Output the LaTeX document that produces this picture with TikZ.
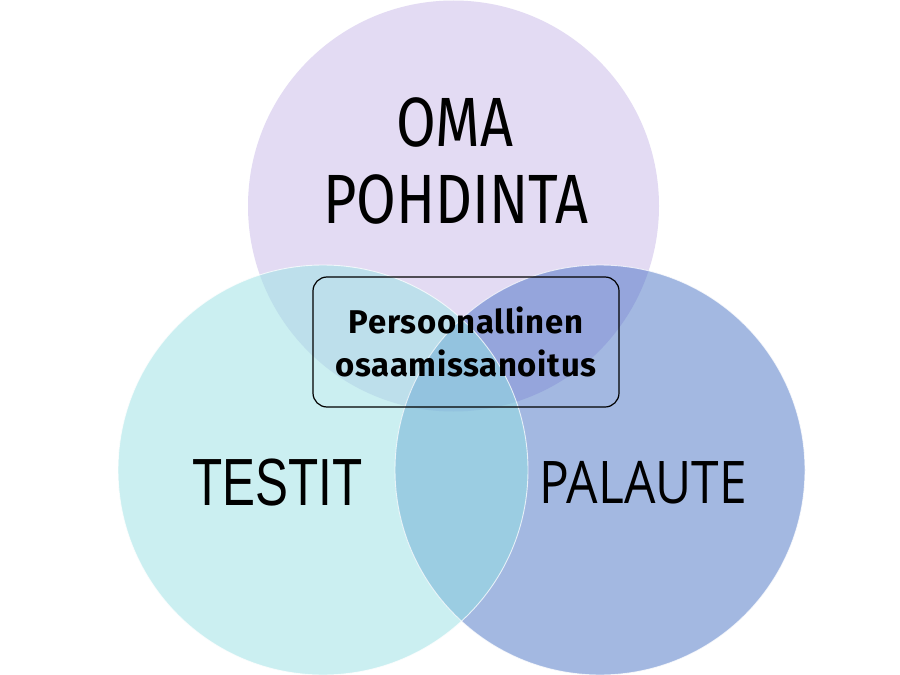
\documentclass[tikz,border=0pt]{standalone}
\usepackage{fontspec}
\setmainfont{Fira Sans}
\newfontfamily\dinfont[FakeStretch=0.825]{Fira Sans}
\newfontfamily\testfont[FakeStretch=0.74]{Liberation Sans}
\newfontfamily\palfont[FakeStretch=0.845]{Open Sans}
\newfontfamily\boxfont[LetterSpace=2]{Fira Sans}
\definecolor{cT}{HTML}{E3DBF3}
\definecolor{cL}{HTML}{CBEFF1}
\definecolor{cR}{HTML}{A3B8E1}
\definecolor{cTL}{HTML}{BDDFEB}
\definecolor{cTR}{HTML}{95A5DC}
\definecolor{cLR}{HTML}{9BCDE2}
\definecolor{cTLR}{HTML}{93C3DF}
\tikzset{
  edgeline/.style={draw=white, line width=0.9bp, draw opacity=0.75},
  biglabel/.style={anchor=base, inner sep=0pt, text=black},
  centerbox/.style={draw=black, line width=1.2bp, rounded corners=14bp, align=center,
    minimum width=306bp, minimum height=130bp, inner sep=0pt,
    font=\boxfont\bfseries\fontsize{33}{44}\selectfont}
}
\begin{document}
\begin{tikzpicture}[x=1bp,y=-1bp]
\useasboundingbox (0,0) rectangle (900,675);
\fill[white] (0,0) rectangle (900,675);
\def\ctop{(453.5,206) circle[radius=205.5]}
\def\cleft{(323,470) circle[radius=205]}
\def\cright{(600,470) circle[radius=205]}
\fill[cT] \ctop;
\fill[cL] \cleft;
\fill[cR] \cright;
\begin{scope}\clip \ctop; \fill[cTL] \cleft; \end{scope}
\begin{scope}\clip \ctop; \fill[cTR] \cright; \end{scope}
\begin{scope}\clip \cleft; \fill[cLR] \cright; \end{scope}
\begin{scope}\clip \ctop; \clip \cleft; \fill[cTLR] \cright; \end{scope}
\draw[edgeline] \cleft;
\draw[edgeline] \cright;
\node[biglabel, font=\dinfont\fontsize{70}{76}\selectfont] (oma) at (455,147) {OMA};
\node[biglabel, font=\dinfont\fontsize{70}{76}\selectfont] (pohdinta) at (456,223) {POHDINTA};
\node[biglabel, font=\testfont\fontsize{67}{70}\selectfont] (testit) at (277.5,505) {TESTIT};
\node[biglabel, font=\palfont\fontsize{59}{62}\selectfont] (palaute) at (643,503) {PALAUTE};
\node[centerbox] (box) at (466,342) {Persoonallinen\\osaamissanoitus};
\end{tikzpicture}
\end{document}
